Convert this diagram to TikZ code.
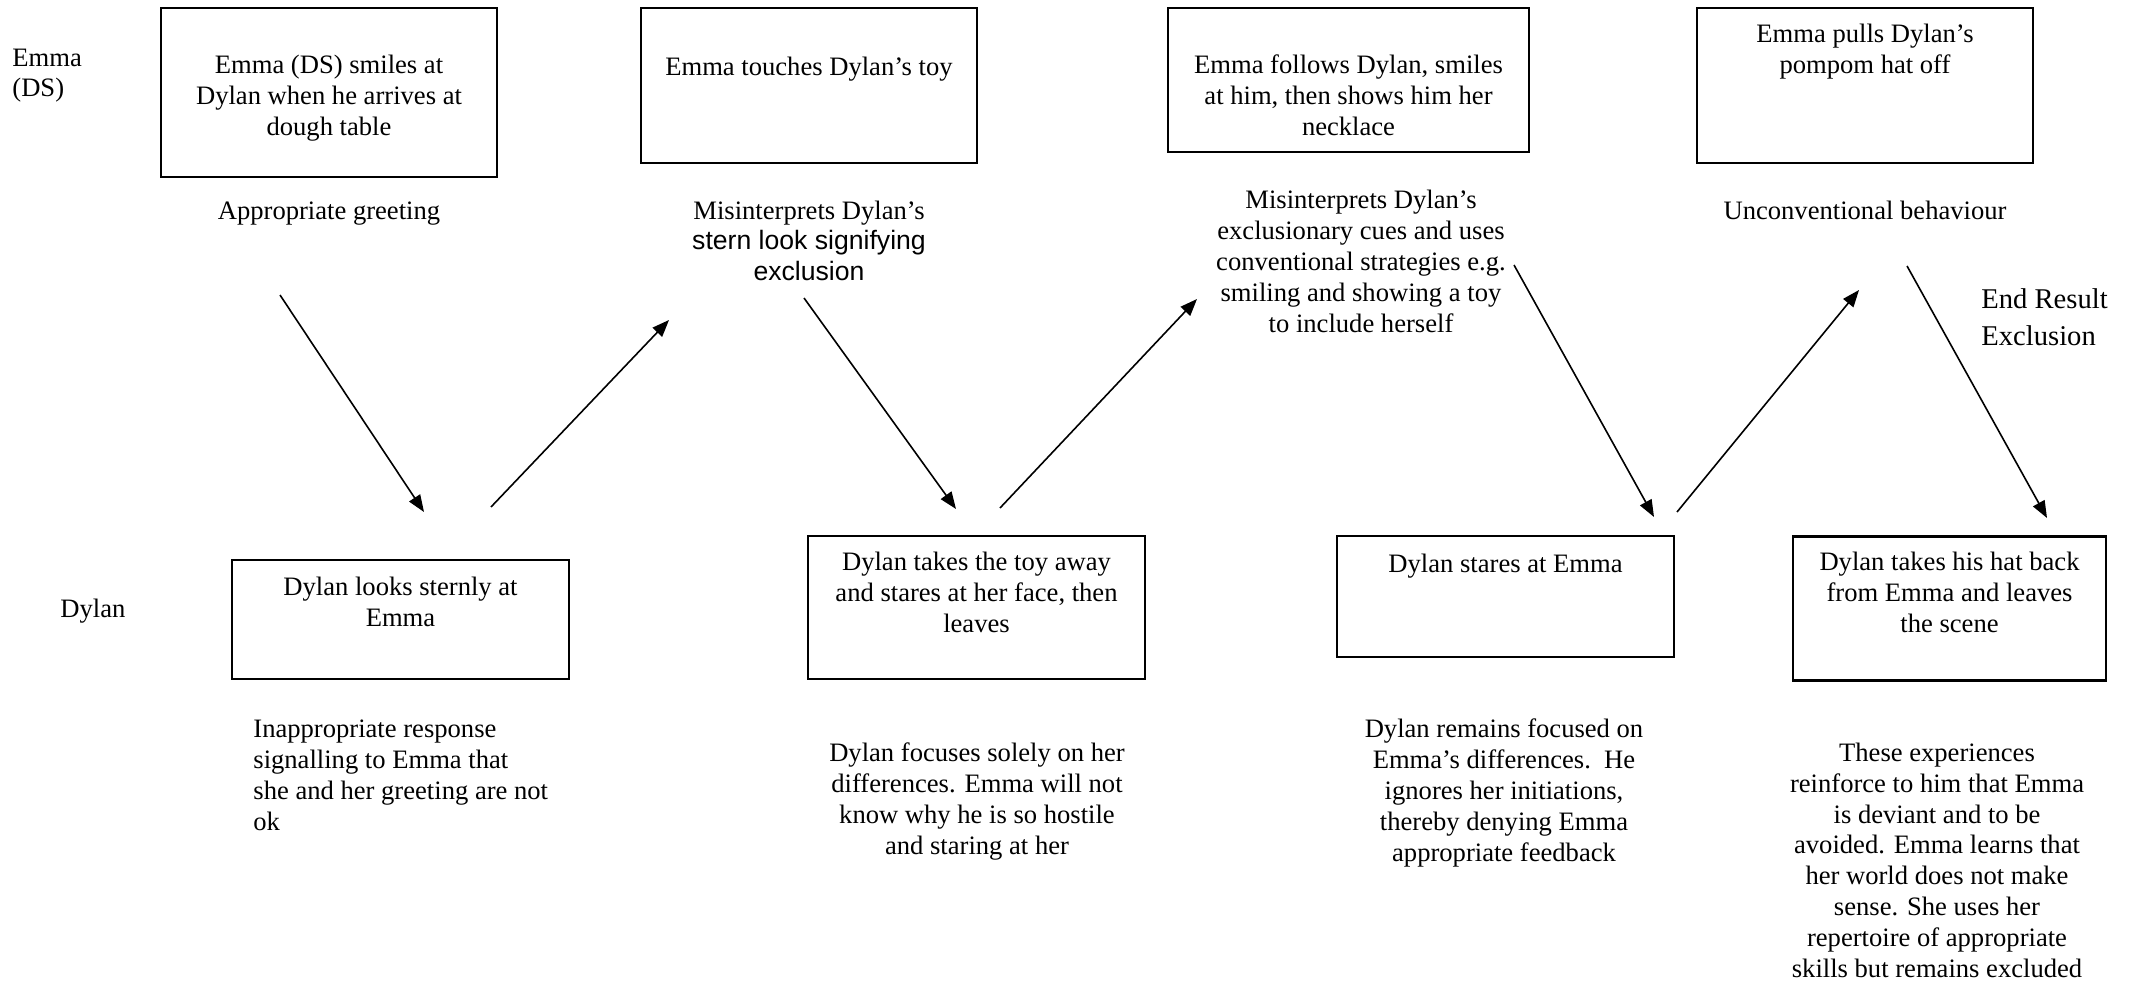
\documentclass[tikz,border=0pt]{standalone}
\usepackage{fontspec}
\setmainfont{Liberation Serif}
\newfontfamily\arialf{Liberation Sans}
\usetikzlibrary{arrows.meta}
\begin{document}
\begin{tikzpicture}[x=0.5pt,y=-0.5pt,
  evbox/.style={draw=black, line width=1.1pt, inner sep=0pt},
  txt/.style={align=center, inner sep=0pt, anchor=base, font=\fontsize{13.3pt}{15.4pt}\selectfont},
  ltxt/.style={align=left, inner sep=0pt, anchor=base west, font=\fontsize{13.3pt}{15.4pt}\selectfont},
  bigtxt/.style={align=left, inner sep=0pt, anchor=base west, font=\fontsize{14.3pt}{18.5pt}\selectfont},
  arr/.style={-{Triangle[length=8.5pt,width=6.5pt]}, line width=0.8pt}]
\useasboundingbox (0,0) rectangle (2134,984);

% row labels (anchor = baseline of last line)
\node[ltxt] (emma) at (12,97) {Emma\\(DS)};
\node[ltxt] (dylan) at (60,617) {Dylan};

% Emma boxes
\node[evbox, minimum width=168pt, minimum height=84.5pt] (b1) at (329,92.5) {};
\node[evbox, minimum width=168pt, minimum height=77.5pt] (b2) at (809,85.5) {};
\node[evbox, minimum width=180.5pt, minimum height=72pt] (b3) at (1348.5,80) {};
\node[evbox, minimum width=168pt, minimum height=77.5pt] (b4) at (1865,85.5) {};
\node[txt] (t1) at (329,135.6) {Emma (DS) smiles at\\Dylan when he arrives at\\dough table};
\node[txt] (t2) at (809,76) {Emma touches Dylan’s toy};
\node[txt] (t3) at (1348.5,135.6) {Emma follows Dylan, smiles\\at him, then shows him her\\necklace};
\node[txt] (t4) at (1865,73.8) {Emma pulls Dylan’s\\pompom hat off};

% Emma labels
\node[txt] (l1) at (329,220) {Appropriate greeting};
\node[txt] (l2) at (809,280.6) {Misinterprets Dylan’s\\{\arialf stern look signifying}\\{\arialf exclusion}};
\node[txt] (l3) at (1361,332) {Misinterprets Dylan’s\\exclusionary cues and uses\\conventional strategies e.g.\\smiling and showing a toy\\to include herself};
\node[txt] (l4) at (1865,220) {Unconventional behaviour};
\node[bigtxt] (endres) at (1981,345) {End Result\\Exclusion};

% Dylan boxes
\node[evbox, minimum width=168.5pt, minimum height=59.5pt] (b5) at (400.5,619.5) {};
\node[evbox, minimum width=168.5pt, minimum height=71.5pt] (b6) at (976.5,607.5) {};
\node[evbox, minimum width=168.5pt, minimum height=60.5pt] (b7) at (1505.5,596.5) {};
\node[evbox, minimum width=156.5pt, minimum height=72pt] (b8) at (1949.5,608.5) {};
\node[txt] (t5) at (400.5,626) {Dylan looks sternly at\\Emma};
\node[txt] (t6) at (976.5,632) {Dylan takes the toy away\\and stares at her face, then\\leaves};
\node[txt] (t7) at (1505.5,572) {Dylan stares at Emma};
\node[txt] (t8) at (1949.5,632) {Dylan takes his hat back\\from Emma and leaves\\the scene};

% Dylan labels
\node[ltxt] (l5) at (253,830) {Inappropriate response\\signalling to Emma that\\she and her greeting are not\\ok};
\node[txt] (l6) at (977,854) {Dylan focuses solely on her\\differences. Emma will not\\know why he is so hostile\\and staring at her};
\node[txt] (l7) at (1504,861) {Dylan remains focused on\\Emma’s differences.\ \ He\\ignores her initiations,\\thereby denying Emma\\appropriate feedback};
\node[txt] (l8) at (1937,977) {These experiences\\reinforce to him that Emma\\is deviant and to be\\avoided. Emma learns that\\her world does not make\\sense. She uses her\\repertoire of appropriate\\skills but remains excluded};

% connector end points
\coordinate (a1s) at (280,295);  \coordinate (a1e) at (424,512);
\coordinate (a2s) at (491,507);  \coordinate (a2e) at (669,320);
\coordinate (a3s) at (804,298);  \coordinate (a3e) at (956,509);
\coordinate (a4s) at (1000,508); \coordinate (a4e) at (1197,299);
\coordinate (a5s) at (1514,265); \coordinate (a5e) at (1654,517);
\coordinate (a6s) at (1677,512); \coordinate (a6e) at (1859,290);
\coordinate (a7s) at (1907,266); \coordinate (a7e) at (2047,518);

\draw[arr] (a1s) -- (a1e);
\draw[arr] (a2s) -- (a2e);
\draw[arr] (a3s) -- (a3e);
\draw[arr] (a4s) -- (a4e);
\draw[arr] (a5s) -- (a5e);
\draw[arr] (a6s) -- (a6e);
\draw[arr] (a7s) -- (a7e);
\end{tikzpicture}
\end{document}
